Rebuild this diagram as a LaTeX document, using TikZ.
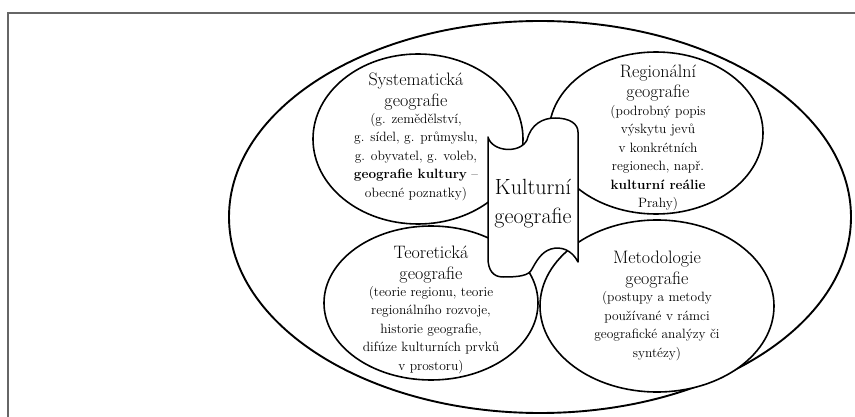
\documentclass[tikz,border=0pt]{standalone}
\usetikzlibrary{positioning}

\begin{document}
\begin{tikzpicture}[
    x=1pt, y=-1pt, % one unit is one pixel of the page, y runs downwards
    frame/.style={draw=black!60, line width=1.4pt}, % page frame
    rim/.style={draw, line width=1.9pt}, % the big ellipse
    field/.style={draw, fill=white, line width=1.6pt}, % the four fields
    scroll/.style={draw, fill=white, line width=1.5pt, line join=round}, % central piece
    fieldtitle/.style={align=center, inner sep=0pt, font=\fontsize{18}{20.5}\selectfont},
    fieldtext/.style={align=center, inner sep=0pt, font=\fontsize{13.5}{18.5}\selectfont},
    core/.style={align=center, inner sep=0pt, font=\fontsize{22}{29}\selectfont}
]
    \useasboundingbox (0,0) rectangle (855,417);

    % Frame of the page
    \draw[frame] (8,417) -- (8,13) -- (855,13);

    % Whole field of geography
    \draw[rim] (540,217) ellipse [x radius=311pt, y radius=196pt];

    % The four parts
    \draw[field] (418,139) ellipse [x radius=105pt, y radius=85pt]; % systematic
    \draw[field] (656,133) ellipse [x radius=107pt, y radius=81pt]; % regional
    \draw[field] (431,303) ellipse [x radius=107pt, y radius=77pt]; % theoretical
    \draw[field] (657,306) ellipse [x radius=117pt, y radius=86pt]; % methodology

    % Central piece
    \draw[scroll] (488,137)
        .. controls (492,152) and (520,154) .. (527,140)
        .. controls (531,124) and (543,118) .. (555,118)
        .. controls (570,118) and (578,124) .. (578,132)
        -- (578,262)
        .. controls (572,250) and (561,246) .. (551,249)
        .. controls (541,252) and (536,262) .. (532,269)
        .. controls (529,276) and (518,277) .. (503,277)
        .. controls (493,277) and (488,270) .. (488,258)
        -- cycle;

    % Texts
    \node[fieldtext] (systext) at (416,157) {(g. zemědělství,\\ g. sídel, g. průmyslu,\\ g. obyvatel, g. voleb,\\ \textbf{geografie kultury} --\\ obecné poznatky)};
    \node[fieldtitle, above=3pt of systext] (systitle) {Systematická\\ geografie};

    \node[fieldtext] (regtext) at (658,158) {(podrobný popis\\ výskytu jevů\\ v konkrétních\\ regionech, např.\\ \textbf{kulturní reálie}\\ Prahy)};
    \node[fieldtitle, above=3pt of regtext] (regtitle) {Regionální\\ geografie};

    \node[fieldtext] (teotext) at (431,330) {(teorie regionu, teorie\\ regionálního rozvoje,\\ historie geografie,\\ difúze kulturních prvků\\ v prostoru)};
    \node[fieldtitle, above=3pt of teotext] (teotitle) {Teoretická\\ geografie};

    \node[fieldtext] (mettext) at (657,326) {(postupy a metody\\ používané v rámci\\ geografické analýzy či\\ syntézy)};
    \node[fieldtitle, above=3pt of mettext] (mettitle) {Metodologie\\ geografie};

    \node[core] (kultura) at (533,204) {Kulturní\\ geografie};

\end{tikzpicture}
\end{document}
